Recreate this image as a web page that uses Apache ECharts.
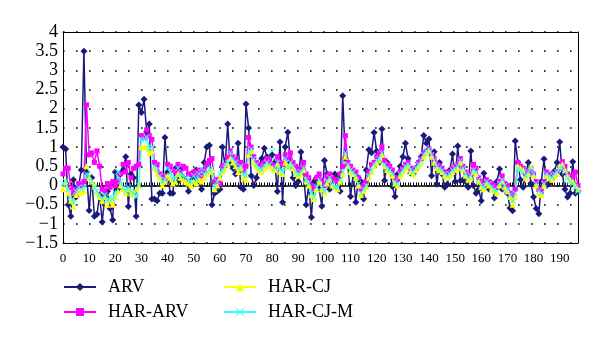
<!DOCTYPE html>
<html>
<head>
<meta charset="utf-8">
<style>
  html, body { margin: 0; padding: 0; background: #fff; }
  #chart { width: 600px; height: 342px; }
</style>
<script src="https://cdn.jsdelivr.net/npm/echarts@6/dist/echarts.min.js"></script>
</head>
<body>
<div id="chart"></div>
<script>
// Daily series, observations 0..197
const arv = [
  1.0, 0.95, -0.5, -0.8, 0.15, -0.3, 0.0, 0.4, 3.5, 0.35,
  -0.65, 0.2, -0.8, -0.75, -0.25, -0.95, -0.3, -0.15, -0.6, -0.9,
  0.35, -0.1, 0.3, 0.4, 0.75, -0.55, 0.3, 0.2, -0.8, 2.1,
  1.9, 2.25, 1.4, 1.6, -0.35, -0.35, -0.4, -0.2, -0.2, 1.25,
  0.35, -0.2, -0.2, 0.45, 0.1, 0.4, 0.2, 0.15, -0.15, 0.3,
  0.2, 0.4, 0.1, -0.1, 0.6, 1.0, 1.05, -0.5, -0.2, -0.15,
  -0.1, 1.0, 0.5, 1.6, 0.55, 0.45, 0.3, 1.1, -0.05, -0.1,
  2.12, 1.5, 0.25, 0.0, 0.2, 0.5, 0.7, 0.97, 0.75, 0.6,
  0.8, 0.6, -0.16, 1.13, -0.44, 1.0, 1.39, 0.6, 0.2, 0.0,
  0.1, 0.87, 0.3, -0.5, 0.0, -0.83, 0.1, 0.2, -0.1, -0.54,
  0.65, 0.3, -0.1, 0.1, 0.3, 0.2, -0.15, 2.34, 0.7, 0.5,
  -0.29, 0.3, -0.44, 0.2, 0.1, -0.35, 0.4, 0.93, 0.85, 1.38,
  0.9, 0.6, 1.47, 0.13, 0.6, 0.4, -0.03, -0.29, 0.3, 0.5,
  0.75, 1.1, 0.7, 0.32, 0.3, 0.45, 0.6, 0.75, 1.3, 1.1,
  1.21, 0.25, 0.88, 0.03, 0.6, 0.3, -0.05, 0.03, 0.4, 0.82,
  0.1, 1.03, 0.12, 0.15, 0.1, -0.05, 0.9, 0.0, -0.2, -0.1,
  -0.4, 0.32, 0.1, -0.1, 0.05, -0.33, 0.1, 0.43, -0.1, 0.0,
  -0.2, -0.59, -0.66, 1.16, 0.6, 0.15, -0.05, 0.3, 0.6, 0.05,
  -0.3, -0.6, -0.74, 0.1, 0.69, 0.0, 0.05, 0.2, 0.38, 0.6,
  1.13, 0.3, -0.1, -0.3, -0.2, 0.62, -0.2, -0.15
];

const harArv = [
  0.3, 0.45, 0.45, -0.05, -0.2, -0.1, 0.05, 0.0, 0.1, 2.1,
  0.8, 0.85, 0.6, 0.9, 0.5, -0.1, -0.15, 0.05, -0.05, 0.1,
  0.0, 0.1, 0.3, 0.55, 0.35, 0.6, 0.2, 0.45, 0.5, 0.55,
  1.3, 1.25, 1.45, 1.3, 1.2, 0.6, 0.55, 0.3, 0.25, 0.15,
  0.55, 0.5, 0.4, 0.35, 0.55, 0.35, 0.5, 0.45, 0.3, 0.3,
  0.35, 0.3, 0.4, 0.25, 0.4, 0.55, 0.65, 0.7, 0.1, 0.15,
  0.05, 0.5, 0.55, 0.75, 0.9, 0.75, 0.7, 0.55, 0.6, 0.4,
  0.5, 1.25, 1.0, 0.75, 0.6, 0.5, 0.55, 0.6, 0.7, 0.65,
  0.55, 0.5, 0.75, 0.6, 0.55, 0.8, 0.7, 0.85, 0.6, 0.5,
  0.4, 0.45, 0.6, 0.3, 0.2, 0.0, -0.1, 0.2, 0.3, 0.15,
  0.0, 0.25, 0.3, 0.2, 0.15, 0.1, 0.3, 0.5, 1.3, 0.6,
  0.5, 0.4, 0.35, 0.2, -0.1, 0.0, 0.1, 0.35, 0.55, 0.6,
  0.75, 0.85, 1.0, 0.65, 0.55, 0.5, 0.4, 0.2, 0.15, 0.35,
  0.45, 0.55, 0.6, 0.45, 0.4, 0.45, 0.6, 0.7, 0.85, 0.9,
  0.95, 0.8, 0.7, 0.55, 0.5, 0.45, 0.35, 0.3, 0.35, 0.45,
  0.5, 0.55, 0.7, 0.5, 0.35, 0.25, 0.3, 0.55, 0.45, 0.2,
  0.1, 0.0, 0.15, 0.1, 0.05, 0.0, -0.05, 0.1, 0.25, 0.05,
  0.0, -0.2, -0.25, -0.1, 0.6, 0.5, 0.45, 0.3, 0.35, 0.45,
  0.3, 0.1, -0.1, -0.15, 0.1, 0.35, 0.3, 0.2, 0.3, 0.35,
  0.45, 0.62, 0.5, 0.3, 0.25, 0.2, 0.35, 0.0
];

const harCj = [
  -0.1, 0.1, -0.2, -0.4, -0.55, -0.25, -0.15, -0.2, -0.15, 0.5,
  0.2, 0.1, 0.0, -0.2, -0.3, -0.4, -0.3, -0.5, -0.4, -0.5,
  -0.3, -0.15, 0.0, -0.1, -0.2, -0.1, -0.2, -0.25, -0.1, 0.0,
  1.0, 1.0, 1.0, 0.85, 0.9, 0.45, 0.3, 0.2, 0.0, 0.1,
  0.25, 0.2, 0.05, 0.1, 0.3, 0.2, 0.15, 0.1, 0.05, 0.0,
  0.1, 0.05, 0.15, 0.1, 0.2, 0.3, 0.35, 0.4, -0.1, 0.0,
  0.2, 0.35, 0.45, 0.55, 0.7, 0.6, 0.5, 0.35, 0.45, 0.2,
  0.15, 0.8, 0.9, 0.6, 0.5, 0.4, 0.35, 0.45, 0.55, 0.5,
  0.45, 0.4, 0.55, 0.35, 0.3, 0.6, 0.5, 0.55, 0.45, 0.3,
  0.25, 0.3, 0.4, 0.1, 0.0, -0.25, -0.35, -0.1, 0.1, -0.1,
  -0.2, 0.05, 0.15, 0.0, -0.05, -0.1, 0.1, 0.3, 0.75, 0.5,
  0.35, 0.3, 0.2, 0.0, -0.25, -0.15, -0.05, 0.2, 0.35, 0.5,
  0.6, 0.65, 0.8, 0.5, 0.4, 0.35, 0.25, 0.05, 0.0, 0.25,
  0.35, 0.45, 0.5, 0.35, 0.3, 0.4, 0.5, 0.6, 0.75, 0.85,
  0.9, 0.75, 0.6, 0.45, 0.4, 0.35, 0.25, 0.2, 0.25, 0.35,
  0.4, 0.45, 0.6, 0.4, 0.25, 0.15, 0.2, 0.35, 0.3, 0.1,
  -0.05, -0.1, 0.05, 0.0, -0.1, -0.15, -0.2, 0.0, 0.1, -0.05,
  -0.15, -0.3, -0.5, -0.3, 0.5, 0.45, 0.4, 0.2, 0.3, 0.5,
  0.25, 0.0, -0.2, -0.25, 0.0, 0.25, 0.2, 0.15, 0.25, 0.3,
  0.5, 0.55, 0.4, 0.25, 0.15, 0.1, 0.0, -0.1
];

const harCjM = [
  0.05, 0.1, -0.1, -0.3, -0.45, -0.15, -0.05, -0.1, -0.05, 0.3,
  0.25, 0.1, -0.05, -0.15, -0.25, -0.35, -0.25, -0.4, -0.3, -0.35,
  -0.2, 0.35, 0.1, -0.05, -0.15, -0.05, -0.15, -0.2, -0.3, 0.0,
  1.2, 1.2, 1.25, 0.95, 1.0, 0.5, 0.4, 0.25, 0.1, 0.15,
  0.45, 0.35, 0.15, 0.2, 0.45, 0.3, 0.25, 0.2, 0.15, 0.1,
  0.25, 0.15, 0.3, 0.45, 0.3, 0.35, 0.4, 0.45, -0.05, 0.1,
  0.3, 0.4, 0.55, 0.6, 0.85, 0.7, 0.6, 0.45, 0.5, 0.3,
  0.25, 0.85, 0.95, 0.7, 0.55, 0.45, 0.4, 0.5, 0.6, 0.55,
  0.9, 0.45, 0.6, 0.4, 0.35, 0.7, 0.45, 0.6, 0.5, 0.35,
  0.3, 0.35, 0.45, 0.15, 0.05, -0.2, -0.3, -0.05, 0.15, -0.05,
  -0.15, 0.1, 0.2, 0.05, -0.05, -0.05, 0.15, 0.35, 0.85, 0.55,
  0.4, 0.35, 0.25, 0.05, -0.2, -0.1, 0.0, 0.25, 0.4, 0.55,
  0.65, 0.7, 0.85, 0.55, 0.45, 0.4, 0.3, 0.1, 0.05, 0.3,
  0.4, 0.5, 0.55, 0.4, 0.35, 0.45, 0.55, 0.65, 0.8, 0.9,
  0.95, 0.8, 0.65, 0.5, 0.45, 0.4, 0.3, 0.25, 0.3, 0.4,
  0.45, 0.5, 0.65, 0.45, 0.3, 0.2, 0.25, 0.4, 0.35, 0.15,
  0.0, -0.05, 0.1, 0.05, -0.05, -0.1, -0.15, 0.05, 0.15, 0.0,
  -0.1, -0.25, -0.4, -0.2, 0.45, 0.4, 0.35, 0.25, 0.35, 0.45,
  0.3, 0.05, -0.15, -0.2, 0.05, 0.3, 0.25, 0.2, 0.3, 0.35,
  0.45, 0.5, 0.35, 0.2, 0.1, 0.05, -0.05, -0.15
];

// x-axis labels shown every ten observations
const xTickLabels = ['0', '10', '20', '30', '40', '50', '60', '70', '80', '90',
  '100', '110', '120', '130', '140', '150', '160', '170', '180', '190'];

const categories = arv.map((_, i) => String(i));
const shownTicks = new Set(xTickLabels);

const crossPath = 'path://M0,1L1,0L5,4L9,0L10,1L6,5L10,9L9,10L5,6L1,10L0,9L4,5Z';
const serif = '"Liberation Serif", "DejaVu Serif", serif';

const chart = echarts.init(document.getElementById('chart'), null, { renderer: 'canvas' });

function lineSeries(name, data, color, symbol, size) {
  return {
    name: name,
    type: 'line',
    data: data,
    symbol: symbol,
    symbolSize: size,
    showAllSymbol: true,
    lineStyle: { color: color, width: 1.5 },
    itemStyle: { color: color, borderColor: color, borderWidth: 0 },
    emphasis: { disabled: true }
  };
}

// Plain axis used only to draw one side of the plot frame
function frameXAxis(position) {
  return {
    type: 'category', data: categories, boundaryGap: false, position: position,
    axisLine: { show: true, onZero: false, lineStyle: { color: '#000', width: 1 } },
    axisTick: { show: false }, axisLabel: { show: false }, splitLine: { show: false }
  };
}

const legendText = { fontFamily: serif, fontSize: 18, color: '#000', padding: [0, 0, 0, 7] };

chart.setOption({
  animation: false,
  backgroundColor: '#fff',
  grid: { left: 63, right: 22, top: 32, bottom: 99 },
  legend: [
    {
      data: ['ARV', 'HAR-ARV'],
      orient: 'vertical',
      left: 63, top: 278, padding: 0,
      itemWidth: 32, itemHeight: 10, itemGap: 7,
      textStyle: legendText
    },
    {
      data: ['HAR-CJ', 'HAR-CJ-M'],
      orient: 'vertical',
      left: 223, top: 278, padding: 0,
      itemWidth: 32, itemHeight: 10, itemGap: 7,
      textStyle: legendText
    }
  ],
  xAxis: [
    {
      type: 'category',
      data: categories,
      boundaryGap: false,
      axisLine: { onZero: true, lineStyle: { color: '#000', width: 1.5 } },
      axisTick: { show: true, inside: true, length: 3, interval: 0, lineStyle: { color: '#000' } },
      axisLabel: {
        interval: (idx, value) => shownTicks.has(value),
        margin: 9,
        fontFamily: serif, fontSize: 13, color: '#000'
      },
      splitLine: { show: false }
    },
    frameXAxis('bottom'),
    frameXAxis('top')
  ],
  yAxis: [
    {
      type: 'value',
      min: -1.5, max: 4, interval: 0.5,
      axisLine: { show: true, lineStyle: { color: '#000' } },
      axisTick: { show: false },
      axisLabel: {
        margin: 5,
        fontFamily: serif, fontSize: 18, color: '#000',
        formatter: v => String(v).replace('-', '\u2212')
      },
      splitLine: { show: true, lineStyle: { color: '#000', width: 1.6, type: [1.6, 11.4] } }
    },
    {
      type: 'value', position: 'right',
      min: -1.5, max: 4, interval: 0.5,
      axisLine: { show: true, lineStyle: { color: '#000' } },
      axisTick: { show: false }, axisLabel: { show: false }, splitLine: { show: false }
    }
  ],
  series: [
    lineSeries('ARV', arv, '#1a1a7a', 'diamond', 7),
    lineSeries('HAR-ARV', harArv, '#ff00ff', 'rect', 5),
    lineSeries('HAR-CJ', harCj, '#ffff00', 'triangle', 6),
    lineSeries('HAR-CJ-M', harCjM, '#33ffff', crossPath, 6)
  ]
});
</script>
</body>
</html>
